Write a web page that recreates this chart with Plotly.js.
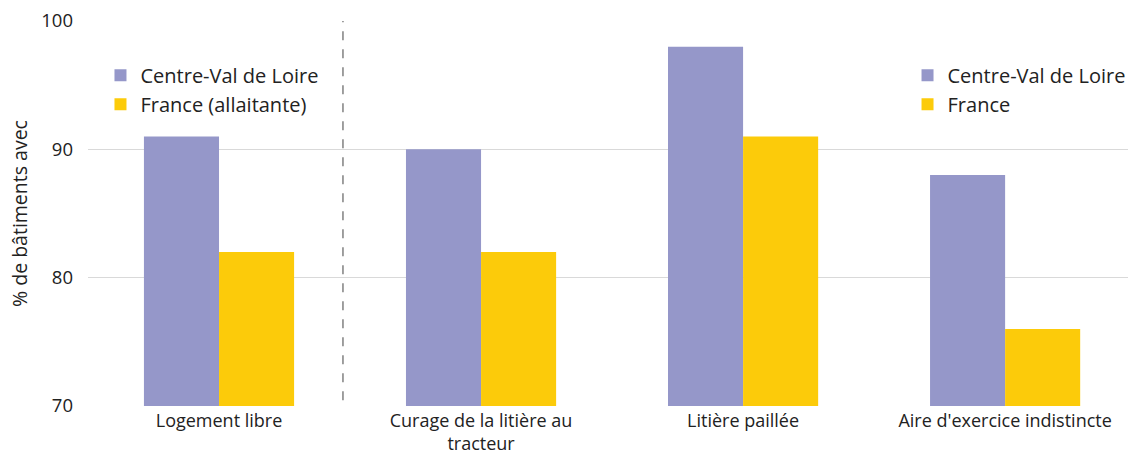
<!DOCTYPE html>
<html>
<head>
<meta charset="utf-8">
<script src="https://cdn.plot.ly/plotly-3.0.1.min.js"></script>
<style>html,body{margin:0;padding:0;background:#fff;}#chart{width:1128px;height:457px;}</style>
</head>
<body>
<div id="chart"></div>
<script>
const categories = ["Logement libre", "Curage de la litière au<br>tracteur", "Litière paillée", "Aire d'exercice indistincte"];
const centreValDeLoire = [91, 90, 98, 88];
const franceValues = [82, 82, 91, 76];
const seriesNames = ["Centre-Val de Loire", "France (allaitante)", "Centre-Val de Loire", "France"];
const yTicks = [70, 80, 90, 100];

const purple = "#9597C9";
const yellow = "#FCCB0A";

const traces = [
  {type: "bar", name: seriesNames[0], x: categories.slice(0, 1), y: centreValDeLoire.slice(0, 1),
   marker: {color: purple}, offsetgroup: "a", legend: "legend"},
  {type: "bar", name: seriesNames[1], x: categories.slice(0, 1), y: franceValues.slice(0, 1),
   marker: {color: yellow}, offsetgroup: "b", legend: "legend"},
  {type: "bar", name: seriesNames[2], x: categories.slice(1), y: centreValDeLoire.slice(1),
   marker: {color: purple}, offsetgroup: "a", legend: "legend2"},
  {type: "bar", name: seriesNames[3], x: categories.slice(1), y: franceValues.slice(1),
   marker: {color: yellow}, offsetgroup: "b", legend: "legend2"}
];

const font = "'Open Sans', 'Noto Sans', sans-serif";

const layout = {
  width: 1128, height: 457,
  margin: {l: 88, r: 0, t: 21, b: 51, autoexpand: false},
  paper_bgcolor: "#fff", plot_bgcolor: "#fff",
  barmode: "group",
  bargap: 0.427, bargroupgap: 0,
  font: {family: font, color: "#222", size: 17},
  xaxis: {
    categoryorder: "array", categoryarray: categories,
    range: [-0.5, 3.469],
    showgrid: false, zeroline: false, showline: false,
    ticks: "", tickangle: 0, tickfont: {size: 18, family: font, color: "#222"},
    ticklabelstandoff: 2,
    fixedrange: true
  },
  yaxis: {
    range: [70, 100], tickvals: yTicks, ticktext: yTicks.map(String),
    showgrid: true, gridcolor: "#d9d9d9", gridwidth: 1.5,
    zeroline: false, showline: false, ticks: "",
    tickfont: {size: 18.5, family: font, color: "#222"},
    ticklen: 0, ticklabelstandoff: 14,
    title: {text: "% de bâtiments avec", font: {size: 19.5, family: font, color: "#222"}, standoff: 8}
  },
  showlegend: true,
  legend: {
    x: 0.012, y: 0.91, xanchor: "left", yanchor: "top",
    font: {size: 20, family: font, color: "#222"},
    bgcolor: "rgba(0,0,0,0)", itemwidth: 30, traceorder: "normal"
  },
  legend2: {
    x: 0.788, y: 0.91, xanchor: "left", yanchor: "top",
    font: {size: 20, family: font, color: "#222"},
    bgcolor: "rgba(0,0,0,0)", itemwidth: 30, traceorder: "normal"
  },
  shapes: [{
    type: "line", xref: "x", yref: "paper",
    x0: 0.473, x1: 0.473, y0: 0.015, y1: 1,
    line: {color: "#808080", width: 1.5, dash: "dash"}
  }]
};

Plotly.newPlot("chart", traces, layout, {displayModeBar: false, staticPlot: true});
</script>
</body>
</html>
